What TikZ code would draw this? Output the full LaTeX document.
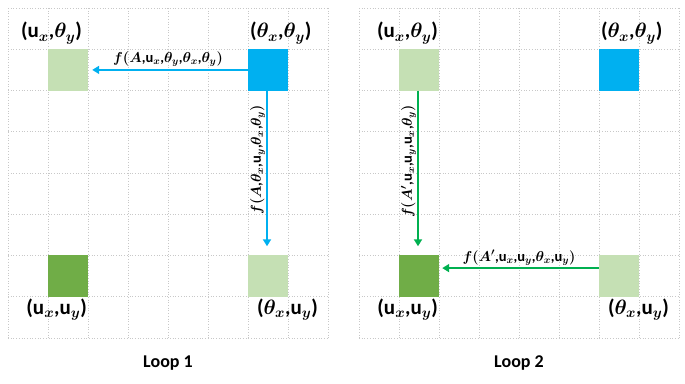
\documentclass[tikz,border=0pt]{standalone}
\usepackage{fontspec}
\setmainfont{Carlito}
\usepackage{tikz}
\usetikzlibrary{arrows.meta,positioning}
\definecolor{sky}{HTML}{00B0F0}
\definecolor{leaf}{HTML}{C5E0B4}
\definecolor{moss}{HTML}{70AD47}
\definecolor{grass}{HTML}{00B050}
\definecolor{gridc}{HTML}{C8C8C8}
\tikzset{
  gridline/.style={draw=gridc,dotted,line width=0.7pt},
  cell/.style={fill=#1,minimum width=40pt,minimum height=41.25pt,inner sep=0pt},
  coordlbl/.style={font=\fontsize{21}{24}\selectfont\bfseries\boldmath,inner sep=1pt,text=black},
  flbl/.style={font=\fontsize{14.5}{17}\selectfont\bfseries\boldmath,inner sep=2pt,text=black},
  looplbl/.style={font=\fontsize{18}{20}\selectfont\bfseries,text=black},
  arrow/.style={-{Triangle[length=7pt,width=8pt]},line width=2pt,color=#1},
}
\begin{document}
\begin{tikzpicture}[x=1pt,y=-1pt]
    \useasboundingbox (0,0) rectangle (685,383);
    % dotted grids of both loops
    \foreach \ox in {8,359} {
      \foreach \i in {0,...,8} \draw[gridline] (\ox+40*\i,8) -- (\ox+40*\i,338);
      \foreach \j in {0,...,8} \draw[gridline] (\ox,8+41.25*\j) -- (\ox+320,8+41.25*\j);
    }
    % loop 1
    \node[cell=leaf] (ta1) at (68,69.9) {};
    \node[cell=sky] (tb1) at (268,69.9) {};
    \node[cell=moss] (ba1) at (68,276.1) {};
    \node[cell=leaf] (bb1) at (268,276.1) {};
    \node[coordlbl,anchor=south east] at ([xshift=-5pt,yshift=4pt]ta1.north east) {(u$_x$,$\theta_y$)};
    \node[coordlbl,anchor=south west] at ([xshift=1pt,yshift=4pt]tb1.north west) {($\theta_x$,$\theta_y$)};
    \node[coordlbl,anchor=north east] at ([yshift=-1pt]ba1.south east) {(u$_x$,u$_y$)};
    \node[coordlbl,anchor=north west] at ([xshift=8pt,yshift=-1pt]bb1.south west) {($\theta_x$,u$_y$)};
    \draw[arrow=sky,shorten >=4pt] (tb1.west) -- (ta1.east)
      node[flbl,midway,above] {$f($$A$,u$_x$,$\theta_y$,$\theta_x$,$\theta_y$$)$};
    \draw[arrow=sky,shorten >=9pt] ([xshift=-1pt]tb1.south) -- ([xshift=-1pt]bb1.north)
      node[flbl,pos=0.42,rotate=90,anchor=south,inner sep=1pt] {$f($$A$,$\theta_x$,u$_y$,$\theta_x$,$\theta_y$$)$};
    \node[looplbl] (loop1) at (168,363) {Loop 1};
    % loop 2
    \node[cell=leaf] (ta2) at (419,69.9) {};
    \node[cell=sky] (tb2) at (619,69.9) {};
    \node[cell=moss] (ba2) at (419,276.1) {};
    \node[cell=leaf] (bb2) at (619,276.1) {};
    \node[coordlbl,anchor=south east] at ([yshift=4pt]ta2.north east) {(u$_x$,$\theta_y$)};
    \node[coordlbl,anchor=south west] at ([xshift=1pt,yshift=4pt]tb2.north west) {($\theta_x$,$\theta_y$)};
    \node[coordlbl,anchor=north east] at ([yshift=-1pt]ba2.south east) {(u$_x$,u$_y$)};
    \node[coordlbl,anchor=north west] at ([xshift=8pt,yshift=-1pt]bb2.south west) {($\theta_x$,u$_y$)};
    \draw[arrow=grass,shorten >=9pt] ([xshift=-1pt]ta2.south) -- ([xshift=-1pt]ba2.north)
      node[flbl,pos=0.43,rotate=90,anchor=south,inner sep=1pt] {$f($$A'$,u$_x$,u$_y$,u$_x$,$\theta_y$$)$};
    \draw[arrow=grass,shorten >=3pt] ([yshift=8pt]bb2.west) -- ([yshift=8pt]ba2.east)
      node[flbl,midway,above] {$f($$A'$,u$_x$,u$_y$,$\theta_x$,u$_y$$)$};
    \node[looplbl] (loop2) at (519,363) {Loop 2};
\end{tikzpicture}
\end{document}
